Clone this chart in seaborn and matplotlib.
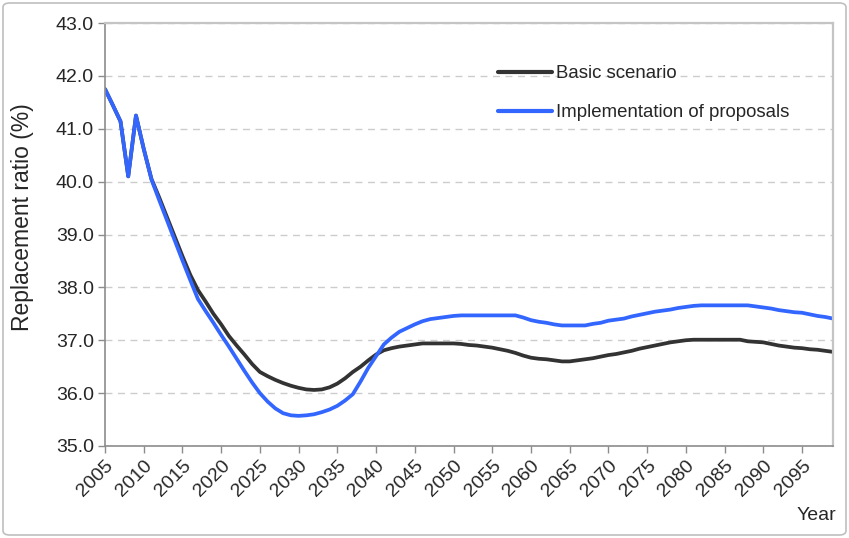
import matplotlib
matplotlib.use("Agg")
import matplotlib.pyplot as plt
import seaborn as sns
import pandas as pd
from matplotlib.lines import Line2D
from matplotlib.patches import FancyBboxPatch

years = list(range(2005, 2100))

basic = [
    41.75, 41.45, 41.14, 40.10, 41.25,
    40.62, 40.05, 39.70, 39.33, 38.96, 38.59, 38.24, 37.95, 37.73, 37.50,
    37.30, 37.08, 36.90, 36.73, 36.55, 36.40, 36.32, 36.25, 36.19, 36.14,
    36.10, 36.07, 36.06, 36.07, 36.11, 36.18, 36.28, 36.40, 36.50, 36.62,
    36.73, 36.81, 36.85, 36.88, 36.90, 36.92, 36.94, 36.94, 36.94, 36.94,
    36.94, 36.93, 36.91, 36.90, 36.88, 36.86, 36.83, 36.80, 36.76, 36.71,
    36.67, 36.65, 36.64, 36.62, 36.60, 36.60, 36.62, 36.64, 36.66, 36.69,
    36.72, 36.74, 36.77, 36.80, 36.84, 36.87, 36.90, 36.93, 36.96, 36.98,
    37.00, 37.01, 37.01, 37.01, 37.01, 37.01, 37.01, 37.01, 36.98, 36.97,
    36.96, 36.93, 36.90, 36.88, 36.86, 36.85, 36.83, 36.82, 36.80, 36.78,
]

proposals = [
    41.75, 41.45, 41.14, 40.10, 41.25,
    40.62, 40.04, 39.65, 39.27, 38.89, 38.51, 38.14, 37.78, 37.55, 37.33,
    37.10, 36.88, 36.65, 36.42, 36.20, 36.00, 35.84, 35.71, 35.62, 35.58,
    35.57, 35.58, 35.60, 35.64, 35.69, 35.76, 35.86, 35.98, 36.22, 36.48,
    36.70, 36.92, 37.05, 37.16, 37.23, 37.30, 37.36, 37.40, 37.42, 37.44,
    37.46, 37.47, 37.47, 37.47, 37.47, 37.47, 37.47, 37.47, 37.47, 37.43,
    37.38, 37.35, 37.33, 37.30, 37.28, 37.28, 37.28, 37.28, 37.31, 37.33,
    37.37, 37.39, 37.41, 37.45, 37.48, 37.51, 37.54, 37.56, 37.58, 37.61,
    37.63, 37.65, 37.66, 37.66, 37.66, 37.66, 37.66, 37.66, 37.66, 37.64,
    37.62, 37.60, 37.57, 37.55, 37.53, 37.52, 37.49, 37.46, 37.44, 37.41,
]

series_names = ["Basic scenario", "Implementation of proposals"]
series_colors = ["#333333", "#3366ff"]
tick_years = list(range(2005, 2100, 5))
y_ticks = [35.0, 36.0, 37.0, 38.0, 39.0, 40.0, 41.0, 42.0, 43.0]

sns.set_style("white")
plt.rcParams["font.family"] = ["Liberation Sans", "DejaVu Sans"]

df = pd.DataFrame({
    "Year": years * 2,
    "value": basic + proposals,
    "series": [series_names[0]] * len(years) + [series_names[1]] * len(years),
})

W, H = 849, 538
fig = plt.figure(figsize=(W / 100, H / 100), dpi=100)
fig.patch.set_facecolor("white")

# outer chart border
border = FancyBboxPatch((3 / W, 3 / H), (W - 6) / W, (H - 6) / H,
                        boxstyle="round,pad=0,rounding_size=0.008",
                        transform=fig.transFigure, fill=False,
                        edgecolor="#bfbfbf", linewidth=1.2)
fig.patches.append(border)

ax = fig.add_axes([105 / W, 1 - 446 / H, (833 - 105) / W, (446 - 23) / H])

sns.lineplot(data=df, x="Year", y="value", hue="series",
             hue_order=series_names,
             palette=dict(zip(series_names, series_colors)),
             linewidth=2.7, ax=ax, legend=False)

ax.set_xlim(2005, 2099)
ax.set_ylim(35, 43)
ax.set_yticks(y_ticks)
ax.set_yticklabels([f"{v:.1f}" for v in y_ticks], fontsize=14)
ax.set_xticks(tick_years)
ax.set_xticklabels([str(y) for y in tick_years], rotation=45, ha="right",
                   va="top", rotation_mode="anchor", fontsize=14)

ax.yaxis.grid(True, linestyle=(0, (5, 4)), color="#cccccc", linewidth=1.0)
ax.xaxis.grid(False)
ax.set_axisbelow(True)

for side in ["left", "bottom"]:
    ax.spines[side].set_color("#8c8c8c")
    ax.spines[side].set_linewidth(1.2)
for side in ["top", "right"]:
    ax.spines[side].set_color("#c4c4c4")
    ax.spines[side].set_linewidth(1.6)

ax.tick_params(axis="both", direction="out", length=5, width=1,
               color="#8c8c8c", left=True, bottom=True, pad=3)

ax.set_xlabel("")
ax.set_ylabel("Replacement ratio (%)", fontsize=16.5)
ax.yaxis.set_label_coords(-0.097, 0.54)

fig.text(836 / W, 1 - 516 / H, "Year", ha="right", va="center", fontsize=14)

handles = [Line2D([0], [0], color=c, lw=3.0) for c in series_colors]
leg = ax.legend(handles, series_names, loc="upper left",
                bbox_to_anchor=(498 / W, 1 - 65 / H),
                bbox_transform=fig.transFigure, frameon=False,
                fontsize=13.4, handlelength=2.9, handletextpad=0.2,
                labelspacing=1.2, borderpad=0, borderaxespad=0)

fig.savefig("out.png", dpi=100, facecolor="white")
